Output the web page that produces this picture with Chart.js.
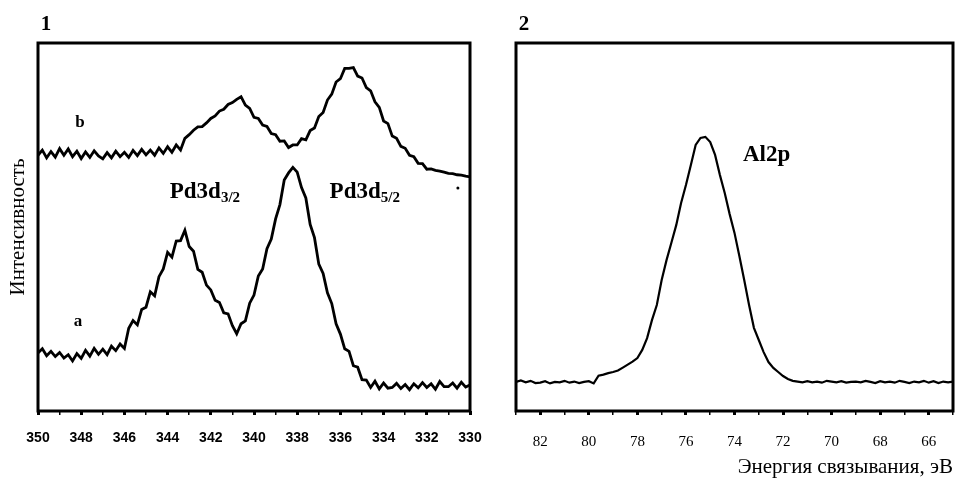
<!DOCTYPE html>
<html><head><meta charset="utf-8">
<script src="https://cdn.jsdelivr.net/npm/chart.js@4/dist/chart.umd.min.js"></script>
<style>
html,body{margin:0;padding:0;background:#fff;}
#wrap{position:relative;width:955px;height:478px;overflow:hidden;background:#fff;}
#c1{position:absolute;left:0;top:0;}
#c2{position:absolute;left:480px;top:0;}
</style></head><body>
<div id="wrap"><canvas id="c1" width="490" height="478"></canvas><canvas id="c2" width="475" height="478"></canvas></div>
<script>
// ---------- Panel 1: Pd3d spectra (binding energy, eV) ----------
const energyPd = [
350.0,349.8,349.6,349.4,349.2,349.0,348.8,348.6,348.4,348.2,
348.0,347.8,347.6,347.4,347.2,347.0,346.8,346.6,346.4,346.2,
346.0,345.8,345.6,345.4,345.2,345.0,344.8,344.6,344.4,344.2,
344.0,343.8,343.6,343.4,343.2,343.0,342.8,342.6,342.4,342.2,
342.0,341.8,341.6,341.4,341.2,341.0,340.8,340.6,340.4,340.2,
340.0,339.8,339.6,339.4,339.2,339.0,338.8,338.6,338.4,338.2,
338.0,337.8,337.6,337.4,337.2,337.0,336.8,336.6,336.4,336.2,
336.0,335.8,335.6,335.4,335.2,335.0,334.8,334.6,334.4,334.2,
334.0,333.8,333.6,333.4,333.2,333.0,332.8,332.6,332.4,332.2,
332.0,331.8,331.6,331.4,331.2,331.0,330.8,330.6,330.4,330.2,
330.0];
const curveA = [
15.8,16.9,15.0,16.2,14.8,15.9,14.4,15.3,13.6,15.6,
14.3,16.5,14.9,17.0,15.4,16.8,15.3,17.6,16.4,18.2,
17.0,22.5,24.6,23.4,27.6,28.2,32.4,31.3,36.5,38.6,
43.1,41.8,46.2,46.3,49.1,44.7,43.4,38.5,37.7,34.2,
32.9,30.1,29.5,26.7,26.4,23.2,21.0,23.7,24.5,29.3,
31.5,36.7,38.6,44.1,46.7,52.2,56.1,62.8,64.7,66.2,
64.9,60.7,57.9,50.7,47.1,39.9,37.4,32.1,29.2,23.7,
20.9,16.9,16.2,12.3,11.9,8.5,8.4,6.4,8.1,6.0,
7.6,6.2,6.4,7.5,6.1,7.2,5.8,7.4,6.3,7.7,
6.4,7.4,5.9,8.0,6.6,6.6,7.6,6.2,7.8,6.5,
7.1];
const curveB = [
69.5,70.9,68.8,70.5,69.0,71.3,69.5,71.2,69.1,70.6,
68.6,70.4,68.9,70.7,69.3,68.5,70.2,68.8,70.6,69.1,
70.3,68.9,70.8,69.4,71.1,69.6,70.9,69.5,71.5,70.0,
71.8,70.3,72.3,70.9,74.1,75.1,76.3,77.2,77.3,78.3,
79.5,80.2,81.5,82.0,83.3,83.8,84.7,85.4,83.1,82.2,
79.8,79.5,77.7,77.3,75.4,75.1,73.3,73.4,71.6,72.3,
72.3,74.0,73.7,76.2,76.9,80.0,81.1,84.5,86.1,89.4,
90.3,93.1,93.1,93.3,91.0,90.5,87.9,87.0,84.0,82.5,
78.8,78.1,74.7,74.1,71.9,71.4,69.5,69.1,67.3,67.2,
65.7,65.8,65.4,65.2,64.9,64.6,64.5,64.2,64.1,63.8,
63.6];
const speck = [{x:330.56, y:60.6}];
const ticksPd = {min:330, max:350, step:1, labelEvery:2};

// ---------- Panel 2: Al2p spectrum ----------
const energyAl = [
83.0,82.8,82.6,82.4,82.2,82.0,81.8,81.6,81.4,81.2,
81.0,80.8,80.6,80.4,80.2,80.0,79.8,79.6,79.4,79.2,
79.0,78.8,78.6,78.4,78.2,78.0,77.8,77.6,77.4,77.2,
77.0,76.8,76.6,76.4,76.2,76.0,75.8,75.6,75.4,75.2,
75.0,74.8,74.6,74.4,74.2,74.0,73.8,73.6,73.4,73.2,
73.0,72.8,72.6,72.4,72.2,72.0,71.8,71.6,71.4,71.2,
71.0,70.8,70.6,70.4,70.2,70.0,69.8,69.6,69.4,69.2,
69.0,68.8,68.6,68.4,68.2,68.0,67.8,67.6,67.4,67.2,
67.0,66.8,66.6,66.4,66.2,66.0,65.8,65.6,65.4,65.2,
65.0];
const curveAl = [
7.9,8.3,7.8,8.2,7.6,7.7,8.1,7.5,7.9,7.8,
8.2,7.7,8.0,7.6,7.9,8.1,7.5,9.6,9.9,10.3,
10.6,11.0,11.8,12.6,13.4,14.4,16.6,19.8,24.7,28.8,
35.6,41.0,45.7,50.5,56.5,61.4,66.8,72.3,74.2,74.5,
73.1,69.6,64.1,59.2,53.5,48.4,42.1,35.6,28.8,22.6,
19.3,16.0,13.3,11.7,10.6,9.5,8.7,8.2,8.0,7.8,
8.1,7.8,8.0,7.7,8.2,8.0,7.8,8.1,7.7,7.9,
8.0,7.8,8.2,7.9,7.6,8.1,7.8,8.0,7.7,8.2,
7.9,7.6,8.0,7.8,8.2,7.7,8.1,7.6,8.0,7.8,
8.0];
const ticksAl = {min:65, max:83, step:1, labelEvery:2};

// ---------- Text ----------
const yTitle = 'Интенсивность';
const xTitle = 'Энергия связывания, эВ';
const panelLabels = ['1', '2'];
const notesPd = [
  {text:'b', x:348.06, y:78.5},
  {text:'a', x:348.15, y:24.2}
];
const peakNotesPd = [
  {main:'Pd3d', sub:'3/2', x:343.9, y:60.0},
  {main:'Pd3d', sub:'5/2', x:336.5, y:60.0}
];
const peakNotesAl = [{main:'Al2p', sub:'', x:73.65, y:70.1}];

// ---------- helpers ----------
const pts = (xs, ys) => xs.map((e, i) => ({x: e, y: ys[i]}));
const SERIF = '"Liberation Serif","Times New Roman",serif';

function framePlugin(label, notes, peaks, bottomTitle) {
  return {
    id: 'frame',
    afterDatasetsDraw(chart) {
      const {ctx, chartArea: a, scales} = chart;
      ctx.save();
      ctx.strokeStyle = '#000';
      ctx.lineWidth = 3;
      ctx.strokeRect(a.left, a.top, a.right - a.left, a.bottom - a.top);
      ctx.fillStyle = '#000';
      ctx.font = 'bold 21px ' + SERIF;
      ctx.textAlign = 'center';
      ctx.textBaseline = 'middle';
      ctx.fillText(label, a.left + 8, a.top - 18);
      ctx.font = 'bold 17px ' + SERIF;
      notes.forEach(n => {
        ctx.fillText(n.text, scales.x.getPixelForValue(n.x), scales.y.getPixelForValue(n.y));
      });
      ctx.textAlign = 'left';
      ctx.textBaseline = 'alphabetic';
      peaks.forEach(p => {
        const px = scales.x.getPixelForValue(p.x);
        const py = scales.y.getPixelForValue(p.y) + 8;
        ctx.font = 'bold 23px ' + SERIF;
        ctx.fillText(p.main, px, py);
        if (p.sub) {
          const w = ctx.measureText(p.main).width;
          ctx.font = 'bold 15px ' + SERIF;
          ctx.fillText(p.sub, px + w, py + 4);
        }
      });
      if (bottomTitle) {
        ctx.font = '21px ' + SERIF;
        ctx.textAlign = 'right';
        ctx.textBaseline = 'middle';
        ctx.fillText(bottomTitle, a.right, a.bottom + 56);
      }
      ctx.restore();
    }
  };
}

function xAxis(t, font, pad) {
  return {
    type: 'linear', min: t.min, max: t.max, reverse: true,
    ticks: {stepSize: t.step, autoSkip: false, maxRotation: 0, minRotation: 0, padding: pad, color: '#000', font: font,
      callback: v => (Math.round(v) % t.labelEvery === 0 ? String(v) : '')},
    grid: {drawOnChartArea: false, drawTicks: true, tickLength: 4, color: '#000',
      lineWidth: c => (c.tick && Math.round(c.tick.value) % t.labelEvery === 0) ? 3 : 1.5},
    border: {display: false},
    afterFit: s => { s.height = 67; s.paddingLeft = 0; s.paddingRight = 0; }
  };
}

const lineDs = (data, w) => ({data, borderColor: '#000', borderWidth: w, pointRadius: 0, tension: 0, fill: false});

new Chart(document.getElementById('c1'), {
  type: 'line',
  data: {datasets: [
    lineDs(pts(energyPd, curveB), 2.8),
    lineDs(pts(energyPd, curveA), 2.8),
    {data: speck, showLine: false, pointRadius: 1.5, pointBackgroundColor: '#000', pointBorderWidth: 0}
  ]},
  options: {
    responsive: false, animation: false,
    layout: {padding: {left: 0, right: 20, top: 43, bottom: 0}},
    plugins: {legend: {display: false}, tooltip: {enabled: false}},
    scales: {
      x: xAxis(ticksPd, {family: '"Liberation Sans Narrow","Liberation Sans",sans-serif', weight: 'bold', size: 14}, 15),
      y: {type: 'linear', min: 0, max: 100, ticks: {display: false}, grid: {display: false}, border: {display: false},
        title: {display: true, text: yTitle, color: '#000', font: {family: SERIF, size: 21}, padding: {top: 6, bottom: 0}},
        afterFit: s => { s.width = 38; }}
    }
  },
  plugins: [framePlugin(panelLabels[0], notesPd, peakNotesPd, null)]
});

new Chart(document.getElementById('c2'), {
  type: 'line',
  data: {datasets: [lineDs(pts(energyAl, curveAl), 2.2)]},
  options: {
    responsive: false, animation: false,
    layout: {padding: {left: 36, right: 2, top: 43, bottom: 0}},
    plugins: {legend: {display: false}, tooltip: {enabled: false}},
    scales: {
      x: xAxis(ticksAl, {family: SERIF, size: 15}, 18),
      y: {type: 'linear', min: 0, max: 100, display: false}
    }
  },
  plugins: [framePlugin(panelLabels[1], [], peakNotesAl, xTitle)]
});
</script>
</body></html>
